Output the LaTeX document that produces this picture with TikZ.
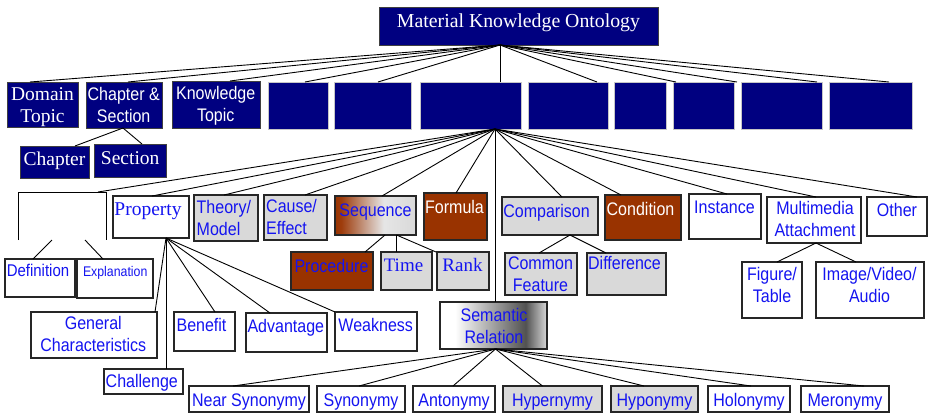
\documentclass[tikz,border=0pt]{standalone}
\usepackage{fontspec}
\setmainfont{Liberation Serif}
\newfontfamily\nsans[FakeStretch=0.88]{Liberation Sans}
\usetikzlibrary{calc}
\definecolor{nvy}{HTML}{000080}
\definecolor{brn}{HTML}{993300}
\definecolor{lgr}{HTML}{D9D9D9}
\definecolor{tblue}{HTML}{1414F0}
\pgfdeclarehorizontalshading{seqshade}{100bp}{color(0bp)=(brn); color(25bp)=(brn); color(29bp)=(brn!95!white); color(55bp)=(white!90!black); color(75bp)=(lgr); color(100bp)=(lgr)}
\pgfdeclarehorizontalshading{semshade}{100bp}{color(0bp)=(white); color(25bp)=(white); color(32bp)=(white); color(65bp)=(black!68); color(75bp)=(white!85!black); color(100bp)=(white!85!black)}
\newcommand\bx[6]{\node[#1, inner sep=0pt, outer sep=0pt, minimum width={(#5-#3)*1pt}, minimum height={(#6-#4)*1pt}] (#2) at ({(#3+#5)/2},{(#4+#6)/2}) {};}
\tikzset{
  nv/.style={fill=nvy, draw=black!75, line width=1pt},
  nvb/.style={fill=nvy, draw=gray!45, line width=0.8pt},
  wbox/.style={fill=white, draw=black!85, line width=1.2pt},
  gbox/.style={fill=lgr, draw=black!85, line width=1.2pt},
  bbox/.style={fill=brn, draw=black!85, line width=1.2pt},
  ser/.style={font=\fontsize{19.5}{21.6}\selectfont, inner sep=0pt},
  sns/.style={font=\nsans\fontsize{18.2}{22}\selectfont, inner sep=0pt},
  wt/.style={text=white},
  bt/.style={text=tblue},
  link/.style={line width=0.9pt, black}
}
\begin{document}
\begin{tikzpicture}[x=1pt,y=-1pt]
\useasboundingbox (0,0) rectangle (928,413);
% ---- top
\bx{nv}{top}{379}{7}{658}{45}
\node[ser, wt, anchor=base, font=\fontsize{19.8}{22}\selectfont] (top-t) at (518.5,27.3) {Material Knowledge Ontology};
% ---- row 2
\bx{nv}{dt}{7}{82}{78}{127}
\node[ser, wt, align=center] (dt-t) at (42.5,107) {Domain\\Topic};
\bx{nv}{cs}{86}{82}{162}{128}
\node[sns, wt, align=center] (cs-t) at (123.7,105) {Chapter \&\\Section};
\bx{nv}{kt}{172}{81}{260}{128}
\node[sns, wt, align=center] (kt-t) at (215.7,106) {Knowledge\\Topic};
\bx{nvb}{b1}{268}{82}{328}{129}
\bx{nvb}{b2}{334}{82}{411}{129}
\bx{nvb}{b3}{420}{82}{521}{129}
\bx{nvb}{b4}{528}{82}{608}{129}
\bx{nvb}{b5}{614}{82}{666}{129}
\bx{nvb}{b6}{673}{82}{734}{129}
\bx{nvb}{b7}{741}{82}{822}{129}
\bx{nvb}{b8}{829}{82}{912}{129}
\bx{nv}{ch}{20}{146}{89}{178}
\node[ser, wt, anchor=base] (ch-t) at (54.5,165.7) {Chapter};
\bx{nv}{sc}{94}{144}{166}{177}
\node[ser, wt, anchor=base] (sc-t) at (130.2,164) {Section};
% ---- row 3
\bx{fill=white}{wbx}{18}{192}{106}{240}
\draw[black, line width=1pt] (wbx.south west) -- (wbx.north west) -- (wbx.north east) -- (wbx.south east);
\bx{wbox}{prop}{113}{196}{189}{238}
\node[ser, bt, anchor=base] (prop-t) at (148,215) {Property};
\bx{gbox}{thm}{194}{195}{258}{241}
\node[sns, bt, align=left, anchor=west] (thm-t) at (196.5,218) {Theory/\\Model};
\bx{gbox}{ce}{264}{195}{327}{240}
\node[sns, bt, align=left, anchor=west] (ce-t) at (266,217.3) {Cause/\\Effect};
\bx{shading=seqshade, shade, draw=black!85, line width=1.2pt}{seq}{335}{196}{416}{235}
\node[sns, bt, anchor=base] (seq-t) at (375.5,216) {Sequence};
\bx{bbox}{form}{424}{193}{487}{240}
\node[sns, wt, anchor=base] (form-t) at (454.5,213.3) {Formula};
\bx{gbox}{comp}{502}{197}{598}{235}
\node[sns, bt, anchor=base] (comp-t) at (546.5,217.3) {Comparison};
\bx{bbox}{cond}{605}{195}{681}{240}
\node[sns, wt, anchor=base] (cond-t) at (640.5,215) {Condition};
\bx{wbox}{inst}{689}{194}{761}{239}
\node[sns, bt, anchor=base] (inst-t) at (724.5,213.3) {Instance};
\bx{wbox}{mm}{767}{197}{861}{243}
\node[sns, bt, align=center] (mm-t) at (815,219) {Multimedia\\Attachment};
\bx{wbox}{oth}{867}{197}{927}{236}
\node[sns, bt, anchor=base] (oth-t) at (897,216.7) {Other};
% ---- row 4
\bx{wbox}{def}{5}{259}{75}{297}
\node[sns, bt, anchor=base, font=\nsans\fontsize{17}{20}\selectfont] (def-t) at (38,276.7) {Definition};
\bx{wbox}{expl}{77}{259}{153}{298}
\node[sns, bt, anchor=base, font=\nsans\fontsize{14}{17}\selectfont] (expl-t) at (115.2,276) {Explanation};
\bx{bbox}{proc}{291}{252}{373}{290}
\node[sns, bt, anchor=base] (proc-t) at (331.5,272.7) {Procedure};
\bx{gbox}{time}{381}{252}{432}{290}
\node[ser, bt, anchor=base, font=\fontsize{19}{21}\selectfont] (time-t) at (403.5,271.7) {Time};
\bx{gbox}{rank}{437}{252}{489}{290}
\node[ser, bt, anchor=base, font=\fontsize{19}{21}\selectfont] (rank-t) at (462.5,271.7) {Rank};
\bx{gbox}{cf}{505}{253}{577}{295}
\node[sns, bt, align=center] (cf-t) at (540.5,274) {Common\\Feature};
\bx{gbox}{diff}{587}{253}{666}{295}
\node[sns, bt, anchor=base] (diff-t) at (624.5,269.3) {Difference};
\bx{wbox}{fig}{742}{262}{802}{318}
\node[sns, bt, align=center] (fig-t) at (772,285) {Figure/\\Table};
\bx{wbox}{img}{816}{262}{924}{318}
\node[sns, bt, align=center] (img-t) at (869.5,285.3) {Image/Video/\\Audio};
% ---- row 5
\bx{wbox}{gc}{31}{312}{157}{358}
\node[sns, bt, align=center] (gc-t) at (93.3,334) {General\\Characteristics};
\bx{wbox}{chal}{104}{369}{183}{394}
\node[sns, bt, anchor=base] (chal-t) at (141.8,387.3) {Challenge};
\bx{wbox}{ben}{174}{312}{235}{351}
\node[sns, bt, anchor=base] (ben-t) at (201.5,331.7) {Benefit};
\bx{wbox}{adv}{246}{313}{327}{352}
\node[sns, bt, anchor=base] (adv-t) at (285.8,332.7) {Advantage};
\bx{wbox}{weak}{335}{312}{417}{351}
\node[sns, bt, anchor=base] (weak-t) at (375.7,331.7) {Weakness};
\bx{shading=semshade, shade, draw=black!85, line width=1.2pt}{sem}{440}{302}{547}{349}
\node[sns, bt, align=center] (sem-t) at (494,325.5) {Semantic\\Relation};
% ---- bottom row
\bx{wbox}{ns}{189}{386}{309}{412}
\node[sns, bt, anchor=base] (ns-t) at (249,406) {Near Synonymy};
\bx{wbox}{syn}{317}{386}{405}{412}
\node[sns, bt, anchor=base] (syn-t) at (361,406) {Synonymy};
\bx{wbox}{ant}{413}{386}{495}{412}
\node[sns, bt, anchor=base] (ant-t) at (454,406) {Antonymy};
\bx{gbox}{hyper}{503}{386}{602}{412}
\node[sns, bt, anchor=base] (hyper-t) at (552.5,406) {Hypernymy};
\bx{gbox}{hypo}{611}{386}{698}{412}
\node[sns, bt, anchor=base] (hypo-t) at (654.5,406) {Hyponymy};
\bx{wbox}{holo}{708}{386}{790}{412}
\node[sns, bt, anchor=base] (holo-t) at (749,406) {Holonymy};
\bx{wbox}{mero}{801}{386}{889}{412}
\node[sns, bt, anchor=base] (mero-t) at (845,406) {Meronymy};
% ---- connectors: top to row 2
\foreach \n/\d in {dt/-12.5, cs/4, kt/14, b1/7, b2/5.5, b3/29.5, b4/29, b5/36, b6/33.5, b7/35.5, b8/18.5}
  \draw[link] ([xshift=-18.5pt]top.south) -- ([xshift=\d pt]\n.north);
% chapter & section
\draw[link] ([xshift=-1pt]cs.south) -- ([xshift=20.5pt]ch.north);
\draw[link] ([xshift=-1pt]cs.south) -- ([xshift=12pt]sc.north);
% b3 to row 3
\foreach \n/\d in {wbx/36, prop/1, thm/-2, ce/9.5, seq/6.5, form/0.5, sem/1.5, comp/12, cond/-22, inst/2, mm/2, oth/20}
  \draw[link] ([xshift=24.5pt]b3.south) -- ([xshift=\d pt]\n.north);
% blank box children
\draw[link] ([xshift=-10pt]wbx.south) -- ([xshift=-7pt]def.north);
\draw[link] ([xshift=23pt]wbx.south) -- ([xshift=-12pt]expl.north);
% property children
\draw[link] ([xshift=15pt]prop.south) -- ([xshift=61pt]gc.north);
\draw[link] ([xshift=15pt]prop.south) -- ([xshift=22.5pt]chal.north);
\draw[link] ([xshift=15pt]prop.south) -- ([xshift=10.5pt]ben.north);
\draw[link] ([xshift=15pt]prop.south) -- ([xshift=-16.5pt]adv.north);
\draw[link] ([xshift=15pt]prop.south) -- ([xshift=-41pt]weak.north);
% sequence children
\draw[link] ([xshift=9.5pt]seq.south) -- ([xshift=33pt]proc.north);
\draw[link] ([xshift=20.5pt]seq.south) -- ([xshift=-10.5pt]time.north);
\draw[link] ([xshift=21pt]seq.south) -- ([xshift=-27pt]rank.north);
% comparison children
\draw[link] ([xshift=20pt]comp.south) -- ([xshift=-2pt]cf.north);
\draw[link] ([xshift=20pt]comp.south) -- ([xshift=-20.5pt]diff.north);
% multimedia children
\draw[link] ([xshift=2pt]mm.south) -- ([xshift=5pt]fig.north);
\draw[link] ([xshift=2pt]mm.south) -- ([xshift=-14pt]img.north);
% semantic children
\foreach \n/\d in {ns/-16, syn/-2, ant/-1, hyper/-10, hypo/-10.5, holo/2, mero/19}
  \draw[link] ([xshift=2pt]sem.south) -- ([xshift=\d pt]\n.north);
\end{tikzpicture}
\end{document}
